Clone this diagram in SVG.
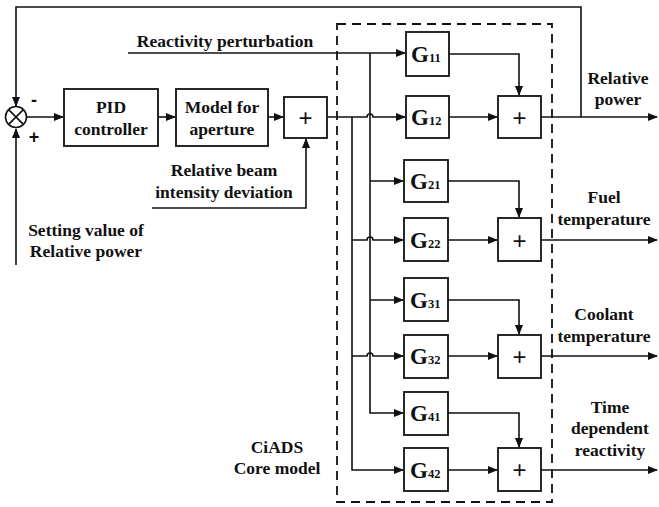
<svg xmlns="http://www.w3.org/2000/svg" width="659" height="507" viewBox="0 0 659 507">
<defs>
<marker id="ar" markerWidth="10" markerHeight="8" refX="9" refY="4" orient="auto" markerUnits="userSpaceOnUse">
<path d="M0,0 L10,4 L0,8 Z" fill="#111"/>
</marker>
<style>
.b{fill:#fff;stroke:#111;stroke-width:1.8}
.l{fill:none;stroke:#111;stroke-width:1.6}
.t{font-family:"Liberation Serif",serif;font-weight:bold;font-size:17.5px;fill:#111;text-anchor:middle}
.g{font-family:"Liberation Serif",serif;font-weight:bold;font-size:23px;fill:#111}
.gs{font-size:12.5px}
.p{font-family:"Liberation Sans",sans-serif;font-size:24px;fill:#111;text-anchor:middle}
.s{font-family:"Liberation Sans",sans-serif;font-size:18px;font-weight:bold;fill:#111;text-anchor:middle}
</style>
</defs>
<rect width="659" height="507" fill="#fff"/>

<g id="connectors">
<path class="l" d="M581,117 V7 H16 V106" marker-end="url(#ar)"/>
<path class="l" d="M16,265 V129" marker-end="url(#ar)"/>
<path class="l" d="M27,117 H63" marker-end="url(#ar)"/>
<path class="l" d="M158,117 H175" marker-end="url(#ar)"/>
<path class="l" d="M268,117 H283" marker-end="url(#ar)"/>
<path class="l" d="M152,208 H306 V139" marker-end="url(#ar)"/>
<path class="l" d="M128,53 H405" marker-end="url(#ar)"/>
<path class="l" d="M327,117 H367 A3,3 0 0 1 373,117 H405" marker-end="url(#ar)"/>
<path class="l" d="M370,53 V413 H403" marker-end="url(#ar)"/>
<path class="l" d="M352,117 V470 H403" marker-end="url(#ar)"/>
<path class="l" d="M370,181 H403" marker-end="url(#ar)"/>
<path class="l" d="M352,240 H367 A3,3 0 0 1 373,240 H403" marker-end="url(#ar)"/>
<path class="l" d="M370,300 H403" marker-end="url(#ar)"/>
<path class="l" d="M352,356 H367 A3,3 0 0 1 373,356 H403" marker-end="url(#ar)"/>
<path class="l" d="M449,54 H519 V95" marker-end="url(#ar)"/>
<path class="l" d="M449,117 H497" marker-end="url(#ar)"/>
<path class="l" d="M448,181 H519 V217" marker-end="url(#ar)"/>
<path class="l" d="M448,240 H497" marker-end="url(#ar)"/>
<path class="l" d="M448,300 H519 V334" marker-end="url(#ar)"/>
<path class="l" d="M448,356 H497" marker-end="url(#ar)"/>
<path class="l" d="M448,413 H519 V447" marker-end="url(#ar)"/>
<path class="l" d="M448,470 H497" marker-end="url(#ar)"/>
<path class="l" d="M541,117 H657" marker-end="url(#ar)"/>
<path class="l" d="M541,240 H657" marker-end="url(#ar)"/>
<path class="l" d="M541,356 H657" marker-end="url(#ar)"/>
<path class="l" d="M541,470 H657" marker-end="url(#ar)"/>
</g>

<g id="core-boundary">
<rect x="337" y="24" width="215" height="478" fill="none" stroke="#111" stroke-width="1.8" stroke-dasharray="9,6"/>
</g>

<g id="sum-junction">
<circle cx="16" cy="117" r="10.5" fill="#fff" stroke="#111" stroke-width="1.6"/>
<path class="l" d="M8.6,109.6 L23.4,124.4 M23.4,109.6 L8.6,124.4"/>
<text class="s" x="34" y="106">-</text>
<text class="s" x="34" y="143">+</text>
</g>

<g id="pid">
<rect class="b" x="64" y="89" width="94" height="57"/>
<text class="t" x="111" y="113">PID</text>
<text class="t" x="111" y="135">controller</text>
</g>
<g id="aperture">
<rect class="b" x="176" y="89" width="92" height="57"/>
<text class="t" x="222" y="113">Model for</text>
<text class="t" x="222" y="135">aperture</text>
</g>
<g id="sum-input">
<rect class="b" x="284" y="97" width="43" height="41"/>
<text class="p" x="305.5" y="126">+</text>
</g>

<g id="G11"><rect class="b" x="406" y="32" width="43" height="44"/><text class="g" x="411" y="62">G<tspan class="gs">11</tspan></text></g>
<g id="G12"><rect class="b" x="406" y="96" width="43" height="42"/><text class="g" x="411" y="125">G<tspan class="gs">12</tspan></text></g>
<g id="G21"><rect class="b" x="404" y="160" width="44" height="42"/><text class="g" x="410" y="189">G<tspan class="gs">21</tspan></text></g>
<g id="G22"><rect class="b" x="404" y="218" width="44" height="43"/><text class="g" x="410" y="248">G<tspan class="gs">22</tspan></text></g>
<g id="G31"><rect class="b" x="404" y="278" width="44" height="43"/><text class="g" x="410" y="308">G<tspan class="gs">31</tspan></text></g>
<g id="G32"><rect class="b" x="404" y="335" width="44" height="43"/><text class="g" x="410" y="364">G<tspan class="gs">32</tspan></text></g>
<g id="G41"><rect class="b" x="404" y="392" width="44" height="43"/><text class="g" x="410" y="421">G<tspan class="gs">41</tspan></text></g>
<g id="G42"><rect class="b" x="404" y="448" width="44" height="43"/><text class="g" x="410" y="478">G<tspan class="gs">42</tspan></text></g>

<g id="sum1"><rect class="b" x="498" y="96" width="43" height="42"/><text class="p" x="519.5" y="126">+</text></g>
<g id="sum2"><rect class="b" x="498" y="218" width="43" height="43"/><text class="p" x="519.5" y="249">+</text></g>
<g id="sum3"><rect class="b" x="498" y="335" width="43" height="43"/><text class="p" x="519.5" y="365">+</text></g>
<g id="sum4"><rect class="b" x="498" y="448" width="43" height="43"/><text class="p" x="519.5" y="478">+</text></g>

<g id="labels">
<text class="t" x="225" y="47">Reactivity perturbation</text>
<text class="t" x="224" y="176">Relative beam</text>
<text class="t" x="224" y="198">intensity deviation</text>
<text class="t" x="86" y="236">Setting value of</text>
<text class="t" x="86" y="257">Relative power</text>
<text class="t" x="618" y="84">Relative</text>
<text class="t" x="618" y="105">power</text>
<text class="t" x="604" y="203">Fuel</text>
<text class="t" x="604" y="225">temperature</text>
<text class="t" x="604" y="320">Coolant</text>
<text class="t" x="604" y="342">temperature</text>
<text class="t" x="610" y="413">Time</text>
<text class="t" x="610" y="434">dependent</text>
<text class="t" x="610" y="456">reactivity</text>
<text class="t" x="277" y="453">CiADS</text>
<text class="t" x="277" y="474">Core model</text>
</g>
</svg>
